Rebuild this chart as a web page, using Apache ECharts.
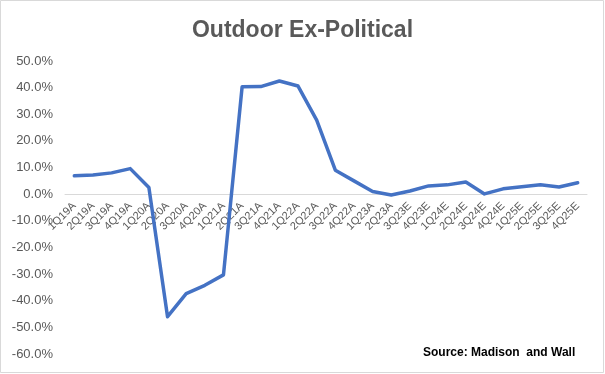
<!DOCTYPE html>
<html>
<head>
<meta charset="utf-8">
<script src="https://cdn.jsdelivr.net/npm/echarts@6/dist/echarts.min.js"></script>
<style>
html,body{margin:0;padding:0;background:#fff;}
#c{width:605px;height:374px;}
</style>
</head>
<body>
<div id="c"></div>
<script>
var categories = ['1Q19A','2Q19A','3Q19A','4Q19A','1Q20A','2Q20A','3Q20A','4Q20A','1Q21A','2Q21A','3Q21A','4Q21A','1Q22A','2Q22A','3Q22A','4Q22A','1Q23A','2Q23A','3Q23E','4Q23E','1Q24E','2Q24E','3Q24E','4Q24E','1Q25E','2Q25E','3Q25E','4Q25E'];
var growthPct = [6.9,7.2,8.0,9.6,2.5,-46.0,-37.3,-34.2,-30.3,40.3,40.4,42.5,40.6,27.8,9.0,5.0,1.0,-0.3,1.2,3.1,3.5,4.6,0.1,2.0,2.8,3.5,2.7,4.3];
var titleText = 'Outdoor Ex-Political';
var sourceText = 'Source: Madison  and Wall';

var gridTop = 61, gridBottom = 20, yMin = -60, yMax = 50;
var gridH = 374 - gridTop - gridBottom;
var zeroOffset = -gridH * (0 - yMin) / (yMax - yMin);

var chart = echarts.init(document.getElementById('c'), null, {renderer:'canvas'});
chart.setOption({
  backgroundColor:'#ffffff',
  animation:false,
  title:{
    text:titleText, left:'center', top:14,
    textStyle:{fontFamily:'Liberation Sans, Arial, sans-serif', fontSize:23, fontWeight:'bold', color:'#595959'}
  },
  graphic:[
    {type:'rect', shape:{x:0.5,y:0.5,width:603,height:372}, style:{fill:'none', stroke:'#d9d9d9', lineWidth:1}},
    {type:'text', left:423, top:347, style:{text:sourceText, font:'bold 12px "Liberation Sans", Arial, sans-serif', fill:'#000000'}}
  ],
  grid:{left:65, right:18, top:gridTop, bottom:gridBottom, containLabel:false, outerBoundsMode:'none'},
  xAxis:{
    type:'category', data:categories, boundaryGap:true, offset:zeroOffset,
    axisLine:{onZero:false, lineStyle:{color:'#d9d9d9', width:1}},
    axisTick:{show:false},
    axisLabel:{rotate:45, interval:0, margin:10, color:'#595959', fontSize:11, fontFamily:'Liberation Sans, Arial, sans-serif'}
  },
  yAxis:{
    type:'value', min:yMin, max:yMax, interval:10,
    axisLine:{show:false}, axisTick:{show:false},
    splitLine:{show:false},
    axisLabel:{margin:12, color:'#595959', fontSize:13, fontFamily:'Liberation Sans, Arial, sans-serif',
      formatter:function(v){return v.toFixed(1)+'%';}}
  },
  series:[{
    type:'line', data:growthPct, showSymbol:false, symbol:'none', smooth:false,
    lineStyle:{color:'#4472C4', width:3.5, join:'round', cap:'round'}
  }]
});
</script>
</body>
</html>
